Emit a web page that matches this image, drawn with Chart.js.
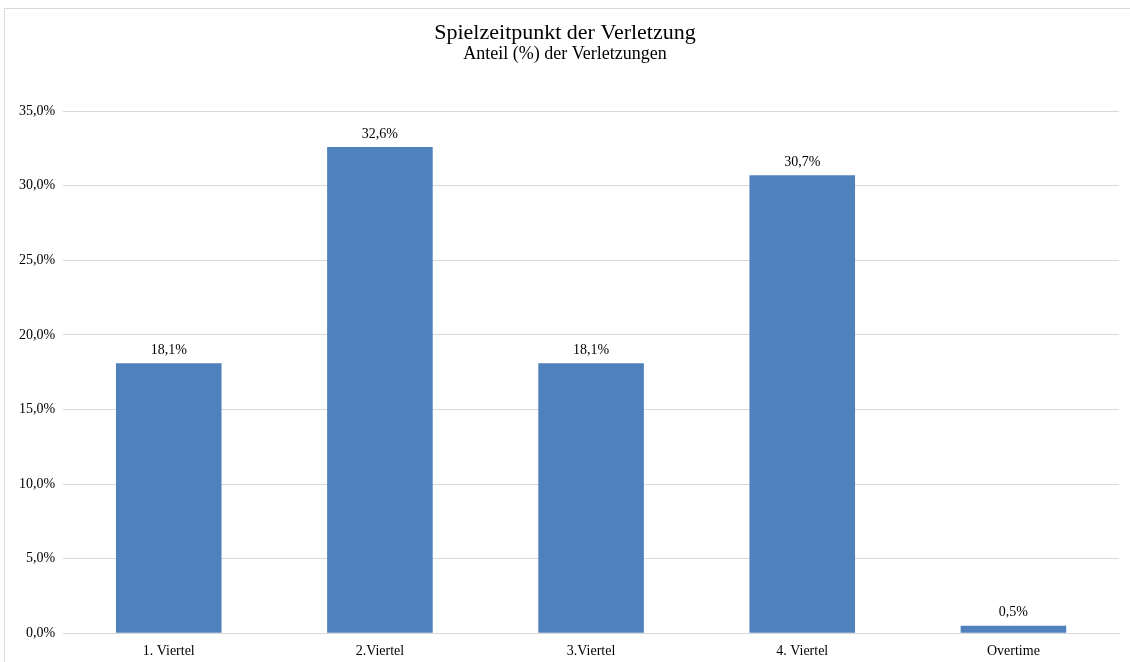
<!DOCTYPE html>
<html>
<head>
<meta charset="utf-8">
<script src="https://cdn.jsdelivr.net/npm/chart.js@4.4.0/dist/chart.umd.min.js"></script>
<style>
  body { margin: 0; background: #fff; }
  #frame { position: absolute; left: 4px; top: 8px; width: 1140px; height: 700px; border: 1px solid #d9d9d9; }
  #wrap { position: absolute; left: 0; top: 0; width: 1130px; height: 662px; }
</style>
</head>
<body>
<div id="frame"></div>
<div id="wrap"><canvas id="myChart"></canvas></div>
<script>
// categories and shares (%)
const categories = ['1. Viertel', '2.Viertel', '3.Viertel', '4. Viertel', 'Overtime'];
const shares = [18.1, 32.6, 18.1, 30.7, 0.5];
const yTicks = [0, 5, 10, 15, 20, 25, 30, 35];

const serif = "'Liberation Serif', 'Times New Roman', serif";
const fmt = v => v.toFixed(1).replace('.', ',') + '%';

// value labels above the bars
const barLabels = {
  id: 'barLabels',
  afterDatasetsDraw(chart) {
    const ctx = chart.ctx;
    const meta = chart.getDatasetMeta(0);
    ctx.save();
    ctx.font = '14px ' + serif;
    ctx.fillStyle = '#000';
    ctx.textAlign = 'center';
    ctx.textBaseline = 'bottom';
    meta.data.forEach((bar, i) => {
      ctx.fillText(fmt(shares[i]), bar.x, bar.y - 6);
    });
    ctx.restore();
  }
};

new Chart(document.getElementById('myChart'), {
  type: 'bar',
  data: {
    labels: categories,
    datasets: [{
      data: shares,
      backgroundColor: '#4f81bd',
      borderWidth: 0,
      categoryPercentage: 1.0,
      barPercentage: 0.5
    }]
  },
  options: {
    responsive: true,
    maintainAspectRatio: false,
    animation: false,
    layout: { padding: { left: 11, right: 11, top: 8, bottom: 0 } },
    plugins: {
      legend: { display: false },
      tooltip: { enabled: false },
      title: {
        display: true,
        text: 'Spielzeitpunkt der Verletzung',
        color: '#000',
        font: { family: serif, size: 22, weight: 'normal', lineHeight: 1.1 },
        padding: { top: 13, bottom: 0 }
      },
      subtitle: {
        display: true,
        text: 'Anteil (%) der Verletzungen',
        color: '#000',
        font: { family: serif, size: 18, weight: 'normal', lineHeight: 1.05 },
        padding: { top: 0, bottom: 47 }
      }
    },
    scales: {
      x: {
        grid: { display: false },
        border: { color: '#d9d9d9' },
        ticks: { color: '#000', font: { family: serif, size: 14 }, padding: 2 }
      },
      y: {
        min: 0,
        max: 35,
        afterBuildTicks: axis => { axis.ticks = yTicks.map(v => ({ value: v })); },
        grid: { color: '#d9d9d9', drawTicks: false },
        border: { display: false },
        ticks: { color: '#000', font: { family: serif, size: 14 }, padding: 8, callback: v => fmt(v) }
      }
    }
  },
  plugins: [barLabels]
});
</script>
</body>
</html>
